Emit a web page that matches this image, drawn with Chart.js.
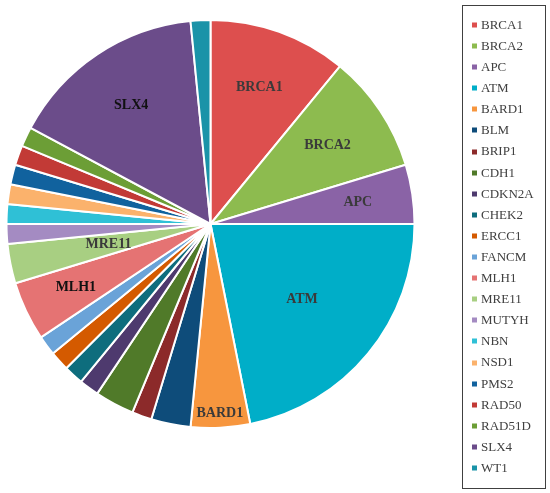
<!DOCTYPE html>
<html>
<head>
<meta charset="utf-8">
<script src="https://cdn.jsdelivr.net/npm/chart.js@4"></script>
<style>
html,body{margin:0;padding:0;background:#fff;}
#wrap{width:550px;height:493px;position:relative;}
</style>
</head>
<body>
<div id="wrap"><canvas id="c" width="550" height="493"></canvas></div>
<script>
const genes = ['BRCA1','BRCA2','APC','ATM','BARD1','BLM','BRIP1','CDH1','CDKN2A','CHEK2','ERCC1','FANCM','MLH1','MRE11','MUTYH','NBN','NSD1','PMS2','RAD50','RAD51D','SLX4','WT1'];
const counts = [7,6,3,14,3,2,1,2,1,1,1,1,3,2,1,1,1,1,1,1,10,1];
const colors = ['#DD4F4E','#8DBB4F','#8A63A6','#00AEC8','#F7963E','#0E4C7A','#8C2A2A','#507A29','#4E3A6E','#0E6D7D','#D45A00','#6AA3D8','#E57373','#A8CF82','#A48BC2','#2FC0D6','#FBB26C','#11629E','#C23A36','#6C9E36','#6B4C8A','#1A93A8'];
// which slices carry an inside label, and how far out (fraction of radius)
const labelRadius = [0.71,0.69,0.73,0.58,0.93,null,null,null,null,null,null,null,0.73,0.51,null,null,null,null,null,null,0.70,null];
const labelColor = ['#3a3a3a','#3a3a3a','#3a3a3a','#3a3a3a','#3a3a3a',null,null,null,null,null,null,null,'#111','#3a3a3a',null,null,null,null,null,null,'#111',null];

const sliceLabels = {
  id:'sliceLabels',
  afterDatasetsDraw(chart){
    const ctx = chart.ctx;
    const meta = chart.getDatasetMeta(0);
    ctx.save();
    ctx.font = 'bold 14px "Liberation Serif"';
    ctx.textAlign = 'center';
    ctx.textBaseline = 'middle';
    meta.data.forEach((arc,i)=>{
      if(labelRadius[i]==null) return;
      const p = arc.getProps(['x','y','startAngle','endAngle','outerRadius'],true);
      const a = (p.startAngle+p.endAngle)/2;
      const r = p.outerRadius*labelRadius[i];
      ctx.fillStyle = labelColor[i];
      ctx.fillText(genes[i], p.x+Math.cos(a)*r, p.y+Math.sin(a)*r);
    });
    ctx.restore();
  }
};

const boxLegend = {
  id:'boxLegend',
  afterDraw(chart){
    const ctx = chart.ctx;
    const L = 462, T = 5, R = 545, B = 488;
    ctx.save();
    ctx.strokeStyle = '#404040';
    ctx.lineWidth = 1;
    ctx.strokeRect(L+0.5, T+0.5, R-L, B-T);
    ctx.font = '13px "Liberation Serif"';
    ctx.textBaseline = 'middle';
    ctx.textAlign = 'left';
    const step = (468-25)/(genes.length-1);
    genes.forEach((g,i)=>{
      const y = 25 + i*step;
      ctx.fillStyle = colors[i];
      ctx.fillRect(472, Math.round(y)-2.5, 5, 5);
      ctx.fillStyle = '#404040';
      ctx.fillText(g, 481, y+0.5);
    });
    ctx.restore();
  }
};

new Chart(document.getElementById('c'),{
  type:'pie',
  data:{labels:genes,datasets:[{data:counts,backgroundColor:colors,borderColor:'#ffffff',borderWidth:2}]},
  options:{
    responsive:false,
    animation:false,
    layout:{padding:{left:5,top:19,right:134,bottom:64}},
    plugins:{legend:{display:false},tooltip:{enabled:false}}
  },
  plugins:[sliceLabels,boxLegend]
});
</script>
</body>
</html>
